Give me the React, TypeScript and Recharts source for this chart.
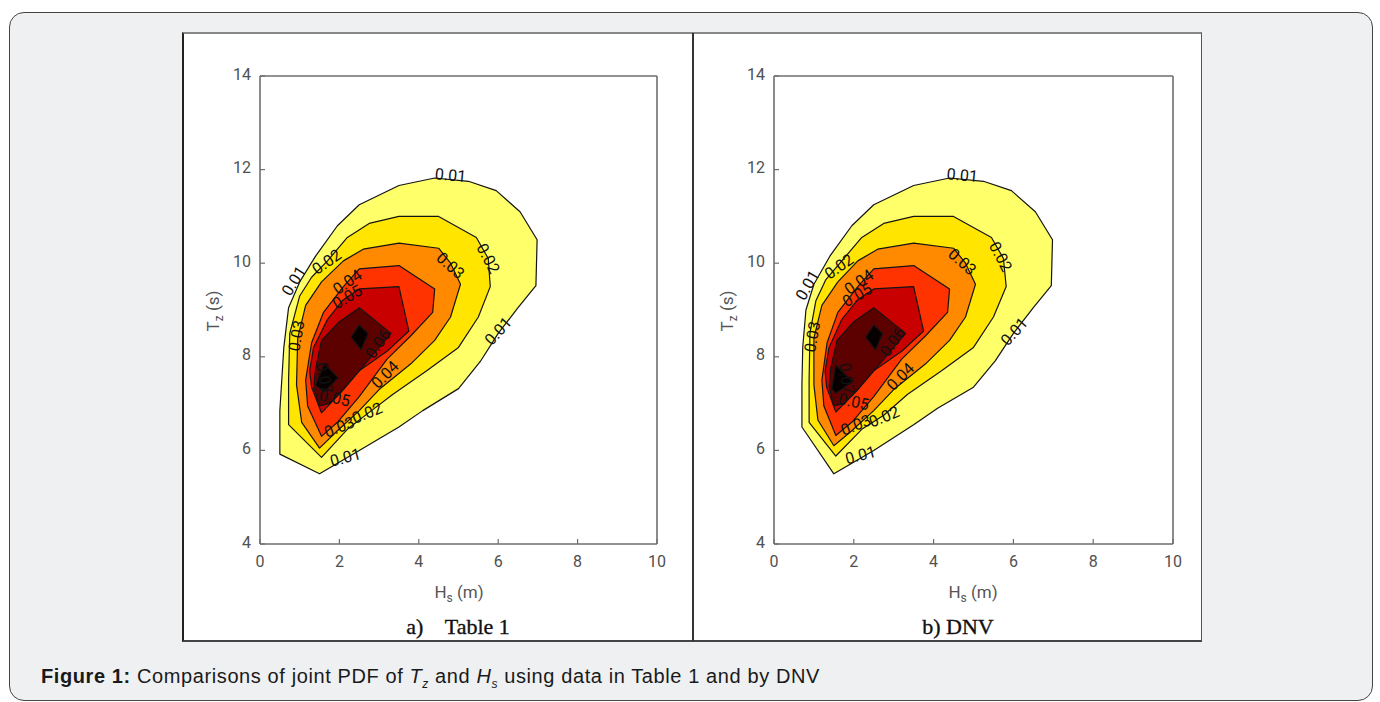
import React from 'react';
import { ScatterChart, Scatter, XAxis, YAxis } from 'recharts';

// ---------- data ----------
const xTicks = [0, 2, 4, 6, 8, 10];
const yTicks = [4, 6, 8, 10, 12, 14];
const levels = ['0.01', '0.02', '0.03', '0.04', '0.05', '0.06', '0.07'];
const levelColors = ['#FFFF6A', '#FFE500', '#FF8A00', '#FF3300', '#C80000', '#5C0000', '#080000'];

type P = [number, number];

// Panel a) Table 1 — contour polygons (Hs, Tz)
const tabL1: P[] = [[0.5,6.85],[0.5,5.92],[1.5,5.5],[2.5,6.0],[3.5,6.5],[4.1,6.85],[5.0,7.32],[5.55,7.9],[6.0,8.5],[6.5,9.05],[6.95,9.52],[6.98,10.5],[6.55,11.1],[5.95,11.55],[5.25,11.75],[4.4,11.82],[3.5,11.66],[2.5,11.25],[1.95,10.8],[1.4,10.15],[1.0,9.6],[0.72,9.05],[0.6,8.2]];
const tabL2: P[] = [[0.72,6.55],[1.55,5.85],[2.2,6.45],[2.7,6.78],[3.35,7.2],[4.2,7.7],[5.0,8.2],[5.5,8.85],[5.8,9.5],[5.75,10.1],[5.45,10.55],[4.5,11.0],[3.5,11.0],[2.75,10.85],[2.2,10.55],[1.7,10.05],[1.3,9.7],[1.0,9.3],[0.75,8.5],[0.72,7.5]];
const tabL3: P[] = [[1.5,6.05],[1.05,6.6],[0.92,7.4],[0.95,8.4],[1.15,9.1],[1.55,9.6],[2.1,10.05],[2.6,10.3],[3.5,10.43],[4.5,10.32],[4.8,10.0],[5.05,9.55],[4.8,8.85],[4.4,8.35],[3.8,7.85],[3.0,7.3],[2.5,6.85],[1.95,6.42]];
const tabL4: P[] = [[1.55,6.3],[1.2,6.95],[1.15,7.5],[1.3,8.3],[1.6,8.95],[2.1,9.5],[2.5,9.88],[3.5,9.95],[4.4,9.45],[4.35,8.95],[3.8,8.45],[3.2,7.95],[2.5,7.15],[1.95,6.6]];
const tabL5: P[] = [[1.55,6.8],[1.3,7.35],[1.25,7.7],[1.35,8.2],[1.7,8.8],[2.1,9.22],[2.5,9.45],[3.5,9.5],[3.75,8.55],[3.2,8.12],[2.5,7.7],[2.05,7.25]];
const tabL6: P[] = [[1.5,6.95],[1.35,7.35],[1.4,7.75],[1.55,8.35],[2.0,8.75],[2.5,9.05],[3.3,8.5],[2.65,7.85],[2.15,7.35],[1.75,7.0]];
const tabL7a: P[] = [[2.3,8.42],[2.5,8.68],[2.72,8.5],[2.55,8.15]];
const tabL7b: P[] = [[1.4,7.4],[1.62,7.85],[1.97,7.55],[1.62,7.25]];

// Panel b) DNV
const dnvL1: P[] = [[0.7,6.5],[1.5,5.5],[2.5,6.0],[3.5,6.55],[4.1,6.9],[5.0,7.35],[5.55,7.92],[6.0,8.5],[6.5,9.05],[6.95,9.52],[6.98,10.5],[6.55,11.1],[5.95,11.55],[5.25,11.75],[4.4,11.82],[3.5,11.66],[2.5,11.25],[1.95,10.8],[1.4,10.15],[1.0,9.55],[0.8,9.0],[0.72,8.2],[0.7,7.4]];
const dnvL2: P[] = [[0.88,6.6],[1.55,5.88],[2.2,6.45],[2.75,6.75],[3.35,7.2],[4.2,7.7],[5.0,8.2],[5.5,8.85],[5.82,9.5],[5.75,10.1],[5.45,10.55],[4.5,11.0],[3.5,11.0],[2.75,10.85],[2.2,10.55],[1.7,10.05],[1.3,9.65],[1.05,9.2],[0.9,8.5],[0.88,7.5]];
const dnvL3: P[] = [[1.5,6.1],[1.1,6.65],[1.0,7.4],[1.0,8.4],[1.2,9.1],[1.6,9.6],[2.1,10.05],[2.6,10.3],[3.5,10.43],[4.5,10.32],[4.8,10.0],[5.05,9.55],[4.8,8.85],[4.4,8.35],[3.8,7.85],[3.0,7.3],[2.5,6.85],[1.95,6.42]];
const dnvL4: P[] = [[1.55,6.32],[1.25,6.95],[1.2,7.5],[1.33,8.3],[1.6,8.95],[2.1,9.5],[2.5,9.88],[3.5,9.95],[4.4,9.45],[4.35,8.95],[3.8,8.45],[3.2,7.95],[2.5,7.15],[1.95,6.6]];
const dnvL5: P[] = [[1.55,6.82],[1.32,7.35],[1.28,7.7],[1.38,8.2],[1.7,8.8],[2.1,9.22],[2.5,9.45],[3.5,9.5],[3.75,8.55],[3.2,8.12],[2.5,7.7],[2.05,7.25]];
const dnvL6: P[] = [[1.5,6.95],[1.38,7.35],[1.42,7.75],[1.58,8.35],[2.0,8.75],[2.5,9.05],[3.3,8.5],[2.65,7.85],[2.15,7.35],[1.75,7.0]];
const dnvL7a: P[] = [[2.3,8.42],[2.5,8.68],[2.72,8.5],[2.55,8.15]];
const dnvL7b: P[] = [[1.45,7.32],[1.55,7.82],[1.97,7.47],[1.55,7.22]];

type Lab = [number, number, string, number];
const tabLabels: Lab[] = [
  [4.8, 11.88, '0.01', 5], [0.85, 9.62, '0.01', -58], [6.0, 8.55, '0.01', -48], [2.15, 5.85, '0.01', -15],
  [1.68, 10.03, '0.02', -35], [5.75, 10.1, '0.02', 62], [2.7, 6.8, '0.02', -22],
  [0.92, 8.45, '0.03', -80], [4.8, 9.95, '0.03', 42], [2.0, 6.5, '0.03', -22],
  [2.2, 9.6, '0.04', -35], [3.15, 7.62, '0.04', -45],
  [2.2, 9.28, '0.05', -30], [1.88, 7.12, '0.05', 12],
  [2.97, 8.28, '0.06', -55], [1.62, 7.55, '0.07', 78],
];
const dnvLabels: Lab[] = [
  [4.72, 11.88, '0.01', 5], [0.84, 9.53, '0.01', -60], [6.02, 8.54, '0.01', -48], [2.17, 5.9, '0.01', -15],
  [1.63, 9.93, '0.02', -35], [5.68, 10.14, '0.02', 62], [2.76, 6.72, '0.02', -22],
  [0.96, 8.43, '0.03', -80], [4.72, 10.03, '0.03', 42], [2.05, 6.54, '0.03', -22],
  [2.13, 9.6, '0.04', -35], [3.17, 7.58, '0.04', -45],
  [2.09, 9.32, '0.05', -30], [2.0, 7.04, '0.05', 12],
  [2.97, 8.32, '0.06', -55], [1.82, 7.54, '0.07', 82],
];

const tabPolys: [P[], number][] = [[tabL1,0],[tabL2,1],[tabL3,2],[tabL4,3],[tabL5,4],[tabL6,5],[tabL7a,6],[tabL7b,6]];
const dnvPolys: [P[], number][] = [[dnvL1,0],[dnvL2,1],[dnvL3,2],[dnvL4,3],[dnvL5,4],[dnvL6,5],[dnvL7a,6],[dnvL7b,6]];

// ---------- rendering ----------
const axisColor = '#6e6e6e';
const tickFont = { fill: '#505050', fontSize: 16, fontFamily: 'Roboto, sans-serif' };

const polygonLine = (fill: string) => (p: any) => (
  <polygon
    points={(p.points || []).map((q: any) => `${q.x},${q.y}`).join(' ')}
    fill={fill}
    stroke="#141414"
    strokeWidth={1.2}
    strokeLinejoin="round"
  />
);

const noDot = () => <g />;

const labelShape = (props: any) => {
  const { cx, cy, payload } = props;
  if (cx == null || cy == null) return <g />;
  return (
    <text
      x={cx}
      y={cy}
      transform={`rotate(${payload.a}, ${cx}, ${cy})`}
      textAnchor="middle"
      dominantBaseline="central"
      fontSize={16}
      fontFamily="Roboto, sans-serif"
      fill="#111"
    >
      {payload.t}
    </text>
  );
};

function Panel({ polys, labels, width, yAxisWidth, marginRight }: { polys: [P[], number][]; labels: Lab[]; width: number; yAxisWidth: number; marginRight: number }) {
  const labelData = labels.map(([x, y, t, a]) => ({ x, y, t, a }));
  return (
    <ScatterChart width={width} height={608} margin={{ top: 42, right: marginRight, bottom: 0, left: 0 }}>
      <XAxis
        dataKey="x"
        type="number"
        domain={[0, 10]}
        ticks={xTicks}
        allowDataOverflow
        height={97}
        tickSize={-5}
        tickMargin={17}
        axisLine={{ stroke: axisColor, strokeWidth: 1.6 }}
        tickLine={{ stroke: axisColor, strokeWidth: 1.2 }}
        tick={tickFont}
      />
      <XAxis
        xAxisId="top"
        orientation="top"
        type="number"
        domain={[0, 10]}
        ticks={xTicks}
        allowDataOverflow
        height={1}
        tickSize={-5}
        tick={false}
        axisLine={{ stroke: axisColor, strokeWidth: 1.6 }}
        tickLine={{ stroke: axisColor, strokeWidth: 1.2 }}
      />
      <YAxis
        dataKey="y"
        type="number"
        domain={[4, 14]}
        ticks={yTicks}
        allowDataOverflow
        width={yAxisWidth}
        tickSize={-5}
        tickMargin={14}
        axisLine={{ stroke: axisColor, strokeWidth: 1.6 }}
        tickLine={{ stroke: axisColor, strokeWidth: 1.2 }}
        tick={{ ...tickFont, dy: -2 }}
      />
      <YAxis
        yAxisId="right"
        orientation="right"
        type="number"
        domain={[4, 14]}
        ticks={yTicks}
        allowDataOverflow
        width={1}
        tickSize={-5}
        tick={false}
        axisLine={{ stroke: axisColor, strokeWidth: 1.6 }}
        tickLine={{ stroke: axisColor, strokeWidth: 1.2 }}
      />
      {polys.map(([pts, lv], i) => (
        <Scatter
          key={i}
          data={pts.map(([x, y]) => ({ x, y }))}
          line={polygonLine(levelColors[lv])}
          lineType="joint"
          shape={noDot}
          fill={levelColors[lv]}
          isAnimationActive={false}
          name={levels[lv]}
        />
      ))}
      <Scatter data={labelData} shape={labelShape} isAnimationActive={false} name="labels" />
    </ScatterChart>
  );
}

const abs = (s: React.CSSProperties): React.CSSProperties => ({ position: 'absolute', ...s });
const axisTitle: React.CSSProperties = { color: '#555', fontSize: 17, fontFamily: 'Roboto, sans-serif', lineHeight: '20px', textAlign: 'center', width: 200, height: 20, whiteSpace: 'nowrap' };
const subStyle: React.CSSProperties = { fontSize: 12, verticalAlign: '-4px', lineHeight: 0 };
const panelCap: React.CSSProperties = { width: 200, textAlign: 'center', fontFamily: '"Liberation Serif", serif', fontSize: 22, lineHeight: '26px', color: '#111', whiteSpace: 'pre', WebkitTextStroke: '0.35px #111' };
const capSub: React.CSSProperties = { fontSize: 12, verticalAlign: '-5px', lineHeight: 0 };

export default function App() {
  return (
    <div style={abs({ left: 0, top: 0, width: 1380, height: 702, overflow: 'hidden', background: '#fff' })}>
      {/* outer box */}
      <div style={abs({ left: 9, top: 12, width: 1364, height: 689, background: '#eff0f2', border: '1.3px solid #444', borderRadius: 15, boxSizing: 'border-box' })} />
      {/* white figure panel */}
      <div style={abs({ left: 182, top: 32, width: 1020, height: 610, background: '#fff', borderTop: '2px solid #888', borderLeft: '2px solid #222', borderRight: '1.5px solid #555', borderBottom: '2px solid #444', boxSizing: 'border-box' })} />
      <div style={abs({ left: 692, top: 33, width: 2, height: 608, background: '#333' })} />

      <div style={abs({ left: 183, top: 33 })}>
        <Panel polys={tabPolys} labels={tabLabels} width={509} yAxisWidth={77} marginRight={34} />
      </div>
      <div style={abs({ left: 693, top: 33 })}>
        <Panel polys={dnvPolys} labels={dnvLabels} width={508} yAxisWidth={81} marginRight={27} />
      </div>

      {/* axis titles */}
      <div style={abs({ ...axisTitle, left: 359, top: 582 })}>H<span style={subStyle}>s</span> (m)</div>
      <div style={abs({ ...axisTitle, left: 873, top: 582 })}>H<span style={subStyle}>s</span> (m)</div>
      <div style={abs({ ...axisTitle, left: 113, top: 301, transform: 'rotate(-90deg)' })}>T<span style={subStyle}>z</span> (s)</div>
      <div style={abs({ ...axisTitle, left: 627, top: 301, transform: 'rotate(-90deg)' })}>T<span style={subStyle}>z</span> (s)</div>

      {/* panel captions */}
      <div style={abs({ ...panelCap, left: 358, top: 614 })}>{'a)    Table 1'}</div>
      <div style={abs({ ...panelCap, left: 858, top: 614 })}>{'b) DNV'}</div>

      {/* figure caption */}
      <div style={abs({ left: 41, top: 665, fontFamily: '"Liberation Sans", Arial, sans-serif', fontSize: 20, letterSpacing: '0.6px', lineHeight: '22px', color: '#1a1a1a', whiteSpace: 'nowrap' })}>
        <b>Figure 1:</b> Comparisons of joint PDF of <i>T</i><span style={capSub}><i>z</i></span> and <i>H</i><span style={capSub}><i>s</i></span> using data in Table 1 and by DNV
      </div>
    </div>
  );
}
